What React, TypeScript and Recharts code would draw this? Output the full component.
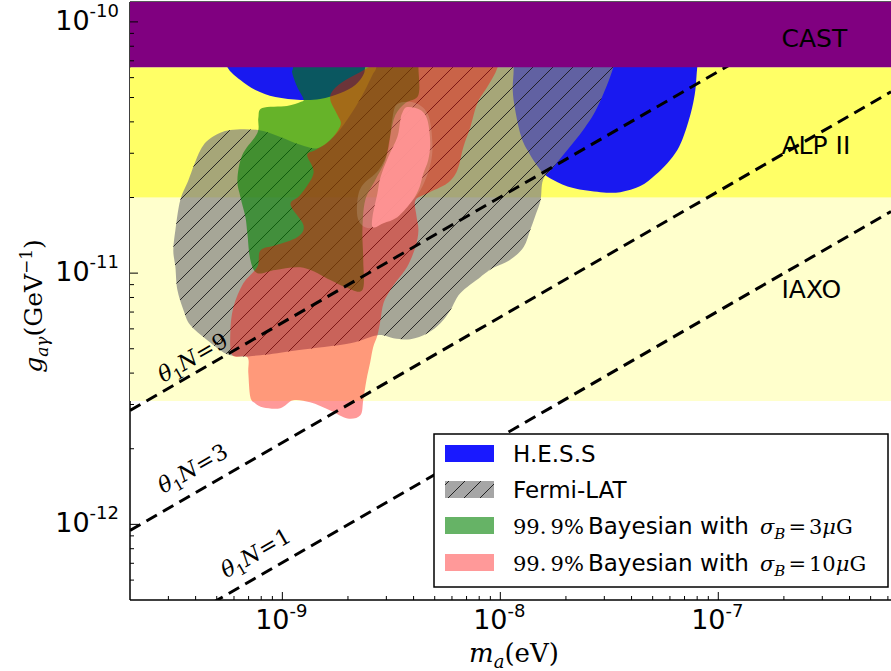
import React from 'react';
import { ComposedChart, XAxis, YAxis, Scatter, Legend, ReferenceLine } from 'recharts';

// ---------- axes ----------
const M_DOMAIN = [2e-10, 6.2e-7];
const G_DOMAIN = [5e-13, 1.2e-10];

const xMajorTicks = [1e-9, 1e-8, 1e-7];
const xMajorExp = ['-9', '-8', '-7'];
const xMinorTicks = [
  3e-10, 4e-10, 5e-10, 6e-10, 7e-10, 8e-10, 9e-10,
  2e-9, 3e-9, 4e-9, 5e-9, 6e-9, 7e-9, 8e-9, 9e-9,
  2e-8, 3e-8, 4e-8, 5e-8, 6e-8, 7e-8, 8e-8, 9e-8,
  2e-7, 3e-7, 4e-7, 5e-7, 6e-7,
];
const yMajorTicks = [1e-12, 1e-11, 1e-10];
const yMajorExp = ['-12', '-11', '-10'];
const yMinorTicks = [
  6e-13, 7e-13, 8e-13, 9e-13,
  2e-12, 3e-12, 4e-12, 5e-12, 6e-12, 7e-12, 8e-12, 9e-12,
  2e-11, 3e-11, 4e-11, 5e-11, 6e-11, 7e-11, 8e-11, 9e-11,
];

// ---------- experiment bands (m, g corners) ----------
const iaxoBand = [[2e-10, 3.1e-12], [6.2e-7, 3.1e-12], [6.2e-7, 2.0e-11], [2e-10, 2.0e-11]];
const alpsBand = [[2e-10, 2.0e-11], [6.2e-7, 2.0e-11], [6.2e-7, 6.6e-11], [2e-10, 6.6e-11]];
const castBand = [[2e-10, 6.6e-11], [6.2e-7, 6.6e-11], [6.2e-7, 1.2e-10], [2e-10, 1.2e-10]];

const bandLabelText = ['CAST', 'ALP II', 'IAXO'];
const bandLabelM = [1.95e-7, 1.95e-7, 1.95e-7];
const bandLabelG = [7.95e-11, 2.98e-11, 7.95e-12];

// ---------- excluded / preferred regions (m [eV], g [GeV^-1]) ----------
const hessLeft = [
  [5.31e-10, 8.0e-11], [5.59e-10, 6.62e-11], [6.42e-10, 5.87e-11], [7.52e-10, 5.36e-11],
  [9.29e-10, 5.02e-11], [1.21e-9, 4.89e-11], [1.49e-9, 4.93e-11], [1.85e-9, 5.21e-11],
  [2.16e-9, 5.61e-11], [2.35e-9, 6.15e-11], [2.40e-9, 6.62e-11], [2.48e-9, 8.0e-11],
];
const hessRight = [
  [1.11e-8, 8.0e-11], [1.15e-8, 6.62e-11], [1.14e-8, 5.36e-11], [1.17e-8, 4.46e-11],
  [1.24e-8, 3.55e-11], [1.33e-8, 3.09e-11], [1.53e-8, 2.57e-11], [1.75e-8, 2.35e-11],
  [2.16e-8, 2.18e-11], [2.88e-8, 2.10e-11], [3.55e-8, 2.10e-11], [4.39e-8, 2.22e-11],
  [5.14e-8, 2.46e-11], [5.84e-8, 2.74e-11], [6.49e-8, 3.09e-11], [6.91e-8, 3.48e-11],
  [7.29e-8, 4.0e-11], [7.60e-8, 4.58e-11], [7.85e-8, 5.36e-11], [8.01e-8, 6.62e-11],
  [8.27e-8, 8.0e-11],
];
const fermiLat = [
  [2.76e-9, 8.0e-11], [3.30e-8, 8.0e-11], [3.30e-8, 6.62e-11], [2.79e-8, 4.58e-11],
  [2.40e-8, 3.71e-11], [2.03e-8, 3.09e-11], [1.75e-8, 2.64e-11], [1.57e-8, 2.35e-11],
  [1.53e-8, 1.95e-11], [1.45e-8, 1.70e-11], [1.37e-8, 1.48e-11], [1.28e-8, 1.27e-11],
  [1.11e-8, 1.13e-11], [9.29e-9, 1.05e-11], [8.09e-9, 9.64e-12], [6.55e-9, 8.32e-12],
  [5.90e-9, 7.12e-12], [5.31e-9, 6.32e-12], [4.63e-9, 5.77e-12], [3.87e-9, 5.46e-12],
  [3.23e-9, 5.51e-12], [2.73e-9, 5.66e-12], [2.05e-9, 5.26e-12], [1.17e-9, 4.93e-12],
  [7.93e-10, 4.71e-12], [5.77e-10, 4.71e-12], [4.53e-10, 5.41e-12], [3.78e-10, 6.21e-12],
  [3.52e-10, 7.12e-12], [3.30e-10, 8.56e-12], [3.23e-10, 1.06e-11], [3.16e-10, 1.23e-11],
  [3.23e-10, 1.48e-11], [3.40e-10, 1.95e-11], [3.71e-10, 2.35e-11], [4.21e-10, 3.09e-11],
  [4.77e-10, 3.48e-11], [5.77e-10, 3.71e-11], [7.76e-10, 3.71e-11], [9.79e-10, 3.48e-11],
  [1.21e-9, 3.24e-11], [1.46e-9, 3.15e-11], [1.75e-9, 3.55e-11], [2.05e-9, 4.26e-11],
  [2.33e-9, 5.12e-11], [2.59e-9, 6.15e-11], [2.70e-9, 6.62e-11],
];
const bayes3 = [
  [1.12e-9, 8.0e-11], [4.21e-9, 8.0e-11], [4.21e-9, 6.62e-11], [4.21e-9, 5.12e-11],
  [3.67e-9, 4.76e-11], [3.30e-9, 4.26e-11], [3.13e-9, 3.55e-11], [2.97e-9, 2.82e-11],
  [2.67e-9, 2.35e-11], [2.40e-9, 1.95e-11], [2.33e-9, 1.48e-11], [2.35e-9, 1.13e-11],
  [2.33e-9, 8.56e-12], [1.95e-9, 8.79e-12], [1.66e-9, 9.38e-12], [1.25e-9, 1.05e-11],
  [9.29e-10, 1.03e-11], [7.68e-10, 1.0e-11], [7.13e-10, 1.13e-11], [6.91e-10, 1.44e-11],
  [6.77e-10, 1.67e-11], [6.42e-10, 2.01e-11], [6.22e-10, 2.35e-11], [6.55e-10, 2.95e-11],
  [7.68e-10, 3.61e-11], [7.76e-10, 4.14e-11], [8.09e-10, 4.54e-11], [1.05e-9, 4.63e-11],
  [1.21e-9, 4.80e-11], [1.25e-9, 4.93e-11], [1.17e-9, 5.51e-11], [1.11e-9, 6.26e-11],
  [1.12e-9, 6.62e-11],
];
const bayes10 = [
  [2.97e-9, 8.0e-11], [1.0e-8, 8.0e-11], [9.69e-9, 6.56e-11], [8.71e-9, 5.51e-11],
  [7.85e-9, 4.76e-11], [7.29e-9, 3.82e-11], [6.77e-9, 3.18e-11], [6.35e-9, 2.57e-11],
  [5.71e-9, 2.28e-11], [4.63e-9, 2.08e-11], [4.08e-9, 1.95e-11], [4.12e-9, 1.70e-11],
  [4.21e-9, 1.48e-11], [4.08e-9, 1.27e-11], [3.74e-9, 1.06e-11], [3.37e-9, 9.38e-12],
  [3.13e-9, 8.56e-12], [2.91e-9, 7.59e-12], [2.82e-9, 6.50e-12], [2.73e-9, 5.66e-12],
  [2.61e-9, 5.07e-12], [2.53e-9, 4.42e-12], [2.43e-9, 3.75e-12], [2.35e-9, 3.12e-12],
  [2.28e-9, 2.72e-12], [1.99e-9, 2.64e-12], [1.66e-9, 2.84e-12], [1.34e-9, 3.06e-12],
  [1.12e-9, 3.12e-12], [9.79e-10, 2.90e-12], [8.18e-10, 2.92e-12], [7.52e-10, 3.03e-12],
  [7.13e-10, 3.21e-12], [6.98e-10, 4.0e-12], [6.91e-10, 4.63e-12], [5.90e-10, 4.71e-12],
  [5.77e-10, 5.77e-12], [5.96e-10, 7.32e-12], [6.62e-10, 9.12e-12], [7.68e-10, 1.06e-11],
  [7.93e-10, 1.23e-11], [9.29e-10, 1.29e-11], [1.17e-9, 1.39e-11], [1.25e-9, 1.55e-11],
  [1.09e-9, 1.87e-11], [1.21e-9, 2.05e-11], [1.39e-9, 2.50e-11], [1.30e-9, 2.95e-11],
  [1.42e-9, 3.09e-11], [1.66e-9, 3.39e-11], [1.85e-9, 3.89e-11], [1.79e-9, 4.26e-11],
  [1.66e-9, 4.89e-11], [1.71e-9, 5.36e-11], [1.95e-9, 5.87e-11], [2.28e-9, 6.32e-11],
  [2.67e-9, 6.93e-11],
];
const bayes10Halo = [
  [3.37e-9, 4.71e-11], [4.08e-9, 4.76e-11], [4.67e-9, 4.26e-11], [4.88e-9, 3.30e-11],
  [4.77e-9, 2.69e-11], [4.30e-9, 2.14e-11], [3.67e-9, 1.82e-11], [2.97e-9, 1.60e-11],
  [2.48e-9, 1.51e-11], [2.23e-9, 1.63e-11], [2.21e-9, 1.95e-11], [2.33e-9, 2.24e-11],
  [2.76e-9, 2.57e-11], [3.06e-9, 3.09e-11], [3.19e-9, 4.07e-11],
];
const bayes10Core = [
  [3.74e-9, 4.58e-11], [4.30e-9, 4.46e-11], [4.63e-9, 4.07e-11], [4.77e-9, 3.30e-11],
  [4.67e-9, 2.82e-11], [4.44e-9, 2.50e-11], [4.21e-9, 2.14e-11], [3.87e-9, 1.90e-11],
  [3.37e-9, 1.67e-11], [2.91e-9, 1.58e-11], [2.61e-9, 1.52e-11], [2.59e-9, 1.67e-11],
  [2.73e-9, 2.08e-11], [2.82e-9, 2.41e-11], [3.06e-9, 2.90e-11], [3.37e-9, 3.48e-11],
  [3.48e-9, 4.07e-11], [3.55e-9, 4.34e-11],
];

// ---------- theta_1 N = const lines ----------
const lineN9 = [[2e-10, 2.84e-12], [6.2e-7, 1.58e-10]];
const lineN3 = [[2e-10, 9.46e-13], [6.2e-7, 5.27e-11]];
const lineN1 = [[2e-10, 3.15e-13], [6.2e-7, 1.76e-11]];
const thetaN = ['9', '3', '1'];
const thetaLabelM = [2.84e-10, 2.84e-10, 5.53e-10];
const thetaLabelG = [3.65e-12, 1.32e-12, 6.09e-13];

// ---------- legend ----------
const legendNames = ['H.E.S.S', 'Fermi-LAT', '99.9% Bayesian with σB=3μG', '99.9% Bayesian with σB=10μG'];
const legendSigma = ['3', '10'];

// ---------- styles ----------
const C_CAST = '#800080';
const C_ALPS = '#ffff66';
const C_IAXO = '#ffffcc';
const C_HESS = '#0000ff';
const C_FERMI = '#808080';
const C_B3 = '#008000';
const C_B10 = '#ff0000';

const toPts = (arr: number[][]) => arr.map(([m, g]) => ({ m, g }));

function smoothClosedPath(pts: { x: number; y: number }[]) {
  const n = pts.length;
  if (n < 3) return '';
  let d = `M${pts[0].x},${pts[0].y}`;
  for (let i = 0; i < n; i++) {
    const p0 = pts[(i - 1 + n) % n];
    const p1 = pts[i];
    const p2 = pts[(i + 1) % n];
    const p3 = pts[(i + 2) % n];
    const c1x = p1.x + (p2.x - p0.x) / 6;
    const c1y = p1.y + (p2.y - p0.y) / 6;
    const c2x = p2.x - (p3.x - p1.x) / 6;
    const c2y = p2.y - (p3.y - p1.y) / 6;
    d += `C${c1x},${c1y} ${c2x},${c2y} ${p2.x},${p2.y}`;
  }
  return d + 'Z';
}
function straightPath(pts: { x: number; y: number }[]) {
  if (!pts.length) return '';
  return 'M' + pts.map((p) => `${p.x},${p.y}`).join('L') + 'Z';
}
const cleanPts = (props: any) =>
  (props.points || []).filter((p: any) => Number.isFinite(p.x) && Number.isFinite(p.y));

const fillPoly = (fill: string, opacity: number, smooth: boolean) => (props: any) => {
  const pts = cleanPts(props);
  return <path d={smooth ? smoothClosedPath(pts) : straightPath(pts)} fill={fill} fillOpacity={opacity} stroke="none" />;
};
const hatchedPoly = (props: any) => {
  const d = smoothClosedPath(cleanPts(props));
  return (
    <g>
      <defs>
        <pattern id="fermiHatch" patternUnits="userSpaceOnUse" width={20} height={20}>
          <path d="M0,20 L20,0 M-5,5 L5,-5 M15,25 L25,15" stroke="#1a1a1a" strokeWidth={0.9} />
        </pattern>
      </defs>
      <path d={d} fill={C_FERMI} fillOpacity={0.7} stroke="none" />
      <path d={d} fill="url(#fermiHatch)" stroke="none" />
    </g>
  );
};
const dashed = { stroke: '#000', strokeWidth: 3, strokeDasharray: '12 7', fill: 'none' };
const NoPoint = () => <g />;

const BandLabel = (props: any) => (
  <text x={props.cx} y={props.cy} fontFamily="DejaVu Sans" fontSize={25} fill="#000">
    {props.payload.label}
  </text>
);
const ThetaLabel = (props: any) => {
  const { cx, cy, payload } = props;
  return (
    <text x={cx} y={cy} transform={`rotate(-29.8 ${cx} ${cy})`} fontFamily="DejaVu Serif" fontSize={22} fill="#000">
      <tspan fontStyle="italic">θ</tspan>
      <tspan fontSize={15} dy={5}>1</tspan>
      <tspan fontStyle="italic" dy={-5}>N</tspan>
      <tspan dx={1}>=</tspan>
      <tspan dx={1}>{payload.n}</tspan>
    </text>
  );
};

const XTick = (props: any) => {
  const { x, y, payload } = props;
  const i = xMajorTicks.indexOf(payload.value);
  const major = i >= 0;
  return (
    <g>
      <line x1={x} x2={x} y1={y} y2={y - (major ? 8 : 4)} stroke="#000" strokeWidth={1} />
      {major && (
        <text x={x - 1} y={y + 29} textAnchor="middle" fontFamily="DejaVu Sans" fill="#000">
          <tspan fontSize={27}>10</tspan>
          <tspan fontSize={18} dy={-12}>{xMajorExp[i]}</tspan>
        </text>
      )}
    </g>
  );
};
const YTick = (props: any) => {
  const { x, y, payload } = props;
  const i = yMajorTicks.indexOf(payload.value);
  const major = i >= 0;
  return (
    <g>
      <line x1={x} x2={x + (major ? 8 : 4)} y1={y} y2={y} stroke="#000" strokeWidth={1} />
      {major && (
        <text x={x - 11} y={y + 8} textAnchor="end" fontFamily="DejaVu Sans" fill="#000">
          <tspan fontSize={27}>10</tspan>
          <tspan fontSize={18} dy={-13}>{yMajorExp[i]}</tspan>
        </text>
      )}
    </g>
  );
};

const XTitle = () => (
  <text x={514} y={662} textAnchor="middle" fontFamily="DejaVu Serif" fontSize={26} fill="#000">
    <tspan fontStyle="italic">m</tspan>
    <tspan fontStyle="italic" fontSize={18} dy={6}>a</tspan>
    <tspan dy={-6}>(eV)</tspan>
  </text>
);
const YTitle = () => (
  <text transform="translate(42,306) rotate(-90)" textAnchor="middle" fontFamily="DejaVu Serif" fontSize={25} fill="#000">
    <tspan fontStyle="italic">g</tspan>
    <tspan fontStyle="italic" fontSize={17} dy={6}>aγ</tspan>
    <tspan dy={-6}>(GeV</tspan>
    <tspan fontSize={17} dy={-10}>−1</tspan>
    <tspan dy={10}>)</tspan>
  </text>
);

const SigmaText = ({ value }: { value: string }) => (
  <>
    <tspan x={327} fontFamily="DejaVu Serif" fontStyle="italic" fontSize={21}>σ</tspan>
    <tspan fontFamily="DejaVu Serif" fontStyle="italic" fontSize={15} dy={5}>B</tspan>
    <tspan fontFamily="DejaVu Serif" fontSize={21} dy={-5} dx={3}>=</tspan>
    <tspan fontFamily="DejaVu Serif" fontSize={21} dx={3}>{value}</tspan>
    <tspan fontFamily="DejaVu Serif" fontStyle="italic" fontSize={21}>μ</tspan>
    <tspan fontFamily="DejaVu Serif" fontSize={21}>G</tspan>
  </>
);

const LegendBox = () => {
  const rowBase = [29, 65, 101, 138];
  const patch = (i: number) => ({ x: 12, y: rowBase[i] - 17, width: 49, height: 17 });
  return (
    <svg width={456} height={155} style={{ display: 'block' }}>
      <defs>
        <pattern id="legendHatch" patternUnits="userSpaceOnUse" width={16} height={16}>
          <path d="M0,16 L16,0 M-4,4 L4,-4 M12,20 L20,12" stroke="#222" strokeWidth={1} />
        </pattern>
      </defs>
      <rect x={1} y={1} width={454} height={153} fill="#fff" stroke="#000" strokeWidth={1.5} />
      <rect {...patch(0)} fill={C_HESS} fillOpacity={0.9} />
      <text x={80} y={rowBase[0]} fontFamily="DejaVu Sans" fontSize={23} fill="#000">{legendNames[0]}</text>
      <rect {...patch(1)} fill={C_FERMI} fillOpacity={0.7} />
      <rect {...patch(1)} fill="url(#legendHatch)" />
      <text x={80} y={rowBase[1]} fontFamily="DejaVu Sans" fontSize={23} fill="#000">{legendNames[1]}</text>
      {[0, 1].map((k) => (
        <g key={k}>
          <rect {...patch(2 + k)} fill={k === 0 ? C_B3 : C_B10} fillOpacity={k === 0 ? 0.6 : 0.4} />
          <text y={rowBase[2 + k]} fill="#000">
            <tspan x={80} fontFamily="DejaVu Serif" fontSize={21}>99.{'\u2009'}9%</tspan>
            <tspan x={155} fontFamily="DejaVu Sans" fontSize={23}>Bayesian with</tspan>
            <SigmaText value={legendSigma[k]} />
          </text>
        </g>
      ))}
    </svg>
  );
};

export default function App() {
  const bandLabels = bandLabelText.map((label, i) => ({ m: bandLabelM[i], g: bandLabelG[i], label }));
  const thetaLabels = thetaN.map((n, i) => ({ m: thetaLabelM[i], g: thetaLabelG[i], n }));
  return (
    <div style={{ position: 'absolute', left: 0, top: 0, width: 891, height: 671, overflow: 'hidden', background: '#fff' }}>
      <ComposedChart width={891} height={671} margin={{ top: 2, right: 0, bottom: 0, left: 0 }}>
        <XAxis
          dataKey="m" type="number" scale="log" domain={M_DOMAIN} allowDataOverflow
          ticks={[...xMajorTicks, ...xMinorTicks]} interval={0} height={71}
          tickLine={false} tickSize={0} tickMargin={0} tick={(p: any) => <XTick {...p} />}
          axisLine={{ stroke: '#000', strokeWidth: 1.5 }} label={<XTitle />}
        />
        <YAxis
          dataKey="g" type="number" scale="log" domain={G_DOMAIN} allowDataOverflow
          ticks={[...yMajorTicks, ...yMinorTicks]} interval={0} width={130}
          tickLine={false} tickSize={0} tickMargin={0} tick={(p: any) => <YTick {...p} />}
          axisLine={{ stroke: '#000', strokeWidth: 1.5 }} label={<YTitle />}
        />
        <Scatter name="IAXO" data={toPts(iaxoBand)} line={fillPoly(C_IAXO, 1, false)} shape={NoPoint} isAnimationActive={false} />
        <Scatter name="ALP II" data={toPts(alpsBand)} line={fillPoly(C_ALPS, 1, false)} shape={NoPoint} isAnimationActive={false} />
        <Scatter name="H.E.S.S a" data={toPts(hessLeft)} line={fillPoly(C_HESS, 0.9, true)} shape={NoPoint} isAnimationActive={false} />
        <Scatter name="H.E.S.S b" data={toPts(hessRight)} line={fillPoly(C_HESS, 0.9, true)} shape={NoPoint} isAnimationActive={false} />
        <Scatter name="Fermi-LAT" data={toPts(fermiLat)} line={hatchedPoly} shape={NoPoint} isAnimationActive={false} />
        <Scatter name="Bayesian 3" data={toPts(bayes3)} line={fillPoly(C_B3, 0.6, true)} shape={NoPoint} isAnimationActive={false} />
        <Scatter name="Bayesian 10" data={toPts(bayes10)} line={fillPoly(C_B10, 0.4, true)} shape={NoPoint} isAnimationActive={false} />
        <Scatter name="Bayesian 10 halo" data={toPts(bayes10Halo)} line={fillPoly('#ffffff', 0.15, true)} shape={NoPoint} isAnimationActive={false} />
        <Scatter name="Bayesian 10 core" data={toPts(bayes10Core)} line={fillPoly('#ff9494', 0.95, true)} shape={NoPoint} isAnimationActive={false} />
        <Scatter name="N9" data={toPts(lineN9)} line={dashed} shape={NoPoint} isAnimationActive={false} />
        <Scatter name="N3" data={toPts(lineN3)} line={dashed} shape={NoPoint} isAnimationActive={false} />
        <Scatter name="N1" data={toPts(lineN1)} line={dashed} shape={NoPoint} isAnimationActive={false} />
        <Scatter name="CAST" data={toPts(castBand)} line={fillPoly(C_CAST, 1, false)} shape={NoPoint} isAnimationActive={false} />
        <Scatter name="band labels" data={bandLabels} shape={BandLabel} isAnimationActive={false} />
        <Scatter name="theta labels" data={thetaLabels} shape={ThetaLabel} isAnimationActive={false} />
        <ReferenceLine y={G_DOMAIN[1]} stroke="#222" strokeWidth={1.5} />
        <Legend
          layout="horizontal" verticalAlign="middle" align="center"
          content={() => <LegendBox />}
          wrapperStyle={{ position: 'absolute', left: 433, top: 433, width: 456, height: 155, margin: 0, padding: 0 }}
        />
      </ComposedChart>
    </div>
  );
}
